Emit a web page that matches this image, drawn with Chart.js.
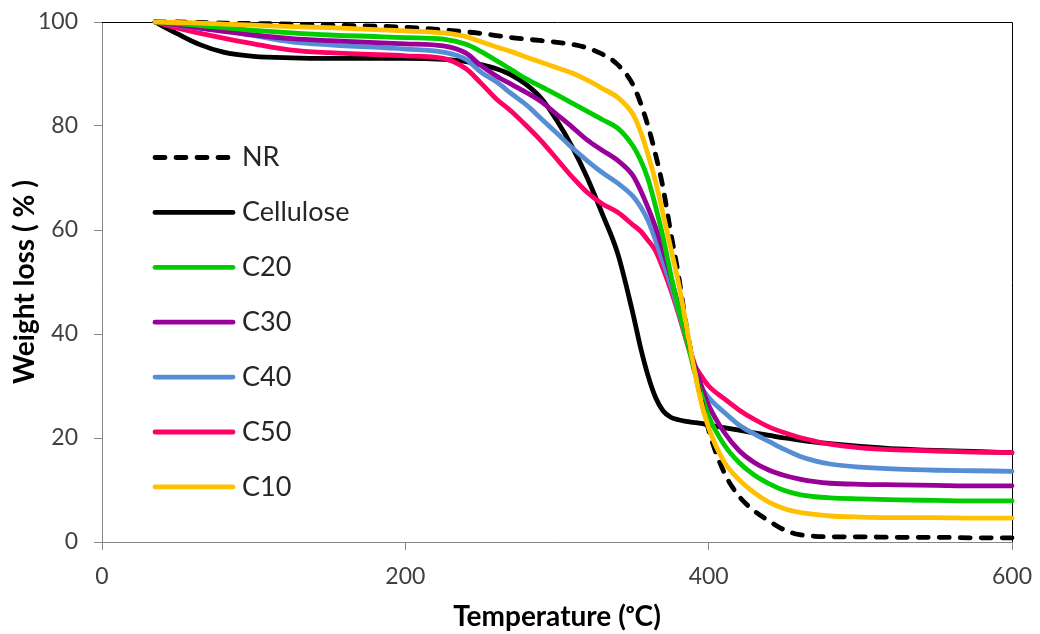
<!DOCTYPE html>
<html><head><meta charset="utf-8">
<script src="https://cdn.jsdelivr.net/npm/chart.js@4.4.0/dist/chart.umd.min.js"></script>
<style>html,body{margin:0;padding:0;background:#fff;}canvas{display:block;}</style>
</head><body>
<canvas id="c" width="1040" height="634"></canvas>
<script>
// Temperature (°C) sample points shared by all series
const temperature = [35,50,65,80,100,125,150,200,225,240,
  250,260,270,280,290,300,310,320,330,340,
  350,355,360,365,370,375,380,385,390,395,
  400,410,420,430,440,450,460,470,480,500,
  525,550,575,600];

const seriesNames = ['NR','Cellulose','C20','C30','C40','C50','C10'];

const NR = [100,100,99.9,99.8,99.7,99.6,99.4,99.0,98.5,98.1,
  97.8,97.4,97.0,96.7,96.4,96.1,95.7,95.0,93.8,91.8,
  88.0,84.5,80.0,74.5,68.0,59.5,51.5,42.0,34.0,27.5,
  21.5,13.5,8.8,6.0,4.0,2.3,1.4,1.1,1.0,1.0,
  0.9,0.9,0.8,0.8];
const Cellulose = [100,97.7,95.6,94.2,93.4,93.1,93.0,93.0,92.8,92.4,
  91.8,91.0,89.8,87.9,85.2,81.0,76.0,70.0,63.0,55.5,
  44.0,37.5,32.0,27.8,25.2,24.0,23.5,23.2,23.0,22.8,
  22.5,22.0,21.5,21.0,20.5,20.0,19.6,19.2,18.9,18.4,
  17.9,17.6,17.4,17.2];
const C20 = [100,99.7,99.3,98.9,98.4,97.9,97.5,97.0,96.7,95.7,
  94.3,92.6,90.8,89.0,87.5,86.0,84.4,82.8,81.2,79.6,
  76.2,73.5,69.8,64.5,58.5,51.5,45.0,39.5,33.5,28.5,
  24.2,18.8,15.3,12.9,11.2,9.9,9.1,8.7,8.5,8.3,
  8.1,8.0,7.9,7.9];
const C30 = [100,99.4,98.8,98.2,97.5,96.8,96.4,95.8,95.4,94.0,
  91.6,89.6,88.0,86.4,84.6,82.2,79.8,77.3,75.3,73.4,
  70.5,67.7,64.3,60.5,56.0,51.0,45.5,40.0,34.8,30.2,
  26.3,21.2,17.6,15.3,13.8,12.8,12.1,11.6,11.3,11.1,
  11.0,10.9,10.8,10.8];
const C40 = [100,99.3,98.8,98.4,97.4,96.2,95.6,94.8,94.2,92.8,
  90.3,88.5,86.2,84.0,81.3,78.6,75.8,73.3,71.0,69.0,
  66.5,64.5,61.8,58.0,53.8,49.5,44.5,39.5,34.5,30.0,
  27.8,25.0,22.5,20.8,19.3,17.8,16.5,15.6,15.0,14.4,
  14.0,13.8,13.7,13.6];
const C50 = [100,98.8,97.8,96.9,95.8,94.6,94.1,93.5,93.0,91.0,
  88.2,85.2,82.8,80.0,77.0,73.6,70.2,67.2,65.0,63.4,
  61.0,59.8,58.0,56.0,52.5,48.5,44.0,39.0,34.5,32.0,
  30.0,27.6,25.4,23.6,22.1,21.0,20.1,19.4,18.8,18.1,
  17.7,17.5,17.3,17.2];
const C10 = [100,99.9,99.8,99.6,99.4,99.1,98.9,98.3,97.9,97.2,
  96.2,95.2,94.3,93.2,92.2,91.2,90.2,88.8,87.2,85.5,
  82.3,79.0,74.5,69.3,63.0,56.5,50.0,42.0,34.0,27.0,
  22.0,15.5,12.0,9.5,7.6,6.4,5.7,5.3,5.0,4.8,
  4.7,4.7,4.6,4.6];

const xTicks = [0,200,400,600];
const yTicks = [0,20,40,60,80,100];

const seriesValues = [NR, Cellulose, C20, C30, C40, C50, C10];
const seriesColors = ['#000000','#000000','#00CC00','#990099','#558ED5','#FF0066','#FFC000'];
const seriesDash = [[10,11],[],[],[],[],[],[]];
const drawOrder = [2,7,3,4,5,6,1];

const FONT = 'Lato, "Open Sans", "DejaVu Sans", sans-serif';

const datasets = seriesNames.map((name,i)=>({
  label: name,
  data: temperature.map((t,k)=>({x:t, y:seriesValues[i][k]})),
  borderColor: seriesColors[i],
  backgroundColor: seriesColors[i],
  borderWidth: 4.8,
  borderDash: seriesDash[i],
  borderCapStyle: 'round',
  borderJoinStyle: 'round',
  pointRadius: 0,
  fill: false,
  cubicInterpolationMode: 'monotone',
  order: drawOrder[i],
  clip: false
}));

const insideLegend = {
  id: 'insideLegend',
  afterDatasetsDraw(chart, args, o) {
    const ctx = chart.ctx;
    ctx.save();
    chart.data.datasets.forEach((ds, i) => {
      const y = o.top + i * o.spacing;
      ctx.beginPath();
      ctx.strokeStyle = ds.borderColor;
      ctx.lineWidth = ds.borderWidth;
      ctx.lineCap = 'round';
      ctx.setLineDash(ds.borderDash && ds.borderDash.length ? o.dash : []);
      ctx.moveTo(o.x, y);
      ctx.lineTo(o.x + o.lineLength, y);
      ctx.stroke();
      ctx.setLineDash([]);
      ctx.fillStyle = o.color;
      ctx.font = o.font;
      ctx.textBaseline = 'middle';
      ctx.textAlign = 'left';
      ctx.fillText(ds.label, o.x + o.lineLength + o.gap, y);
    });
    ctx.restore();
  }
};

const frame = {
  id: 'frame',
  beforeDatasetsDraw(chart) {
    const {ctx, chartArea: a} = chart;
    ctx.save();
    ctx.strokeStyle = '#000';
    ctx.lineWidth = 1;
    ctx.beginPath();
    ctx.moveTo(a.left, Math.round(a.top) + 0.5);
    ctx.lineTo(Math.round(a.right) + 0.5, Math.round(a.top) + 0.5);
    ctx.lineTo(Math.round(a.right) + 0.5, a.bottom);
    ctx.stroke();
    ctx.restore();
  }
};

new Chart(document.getElementById('c'), {
  type: 'line',
  data: { datasets },
  options: {
    responsive: false,
    animation: false,
    devicePixelRatio: 1,
    layout: { autoPadding: false, padding: { top: 22, right: 28, left: 0, bottom: 0 } },
    plugins: {
      legend: { display: false },
      tooltip: { enabled: false },
      insideLegend: {
        x: 155, lineLength: 78, gap: 9, top: 157.5, spacing: 54.9,
        dash: [10, 11], color: '#262626', font: '27px ' + FONT
      }
    },
    scales: {
      x: {
        type: 'linear', min: 0, max: 600,
        afterBuildTicks: s => { s.ticks = xTicks.map(v => ({value: v})); },
        afterFit: s => { s.height = 92; s.paddingLeft = 0; s.paddingRight = 0; },
        grid: { display: true, drawOnChartArea: false, drawTicks: true, tickLength: 8, color: '#868686' },
        border: { display: true, color: '#868686', width: 1 },
        ticks: { font: { family: FONT, size: 23 }, color: '#404040', padding: 13, maxRotation: 0 },
        title: { display: true, text: 'Temperature (ᵒC)', color: '#000',
          font: { family: FONT, size: 28, weight: 'bold' }, padding: { top: 0, bottom: 0 } }
      },
      y: {
        min: 0, max: 100,
        afterBuildTicks: s => { s.ticks = yTicks.map(v => ({value: v})); },
        afterFit: s => { s.width = 102; s.paddingTop = 0; s.paddingBottom = 0; },
        grid: { display: true, drawOnChartArea: false, drawTicks: true, tickLength: 8, color: '#868686' },
        border: { display: true, color: '#868686', width: 1 },
        ticks: { font: { family: FONT, size: 23 }, color: '#404040', padding: 16 },
        title: { display: true, text: 'Weight loss ( % )', color: '#000',
          font: { family: FONT, size: 28, weight: 'bold' }, padding: { top: 8, bottom: 0 } }
      }
    }
  },
  plugins: [frame, insideLegend]
});
</script>
</body></html>
